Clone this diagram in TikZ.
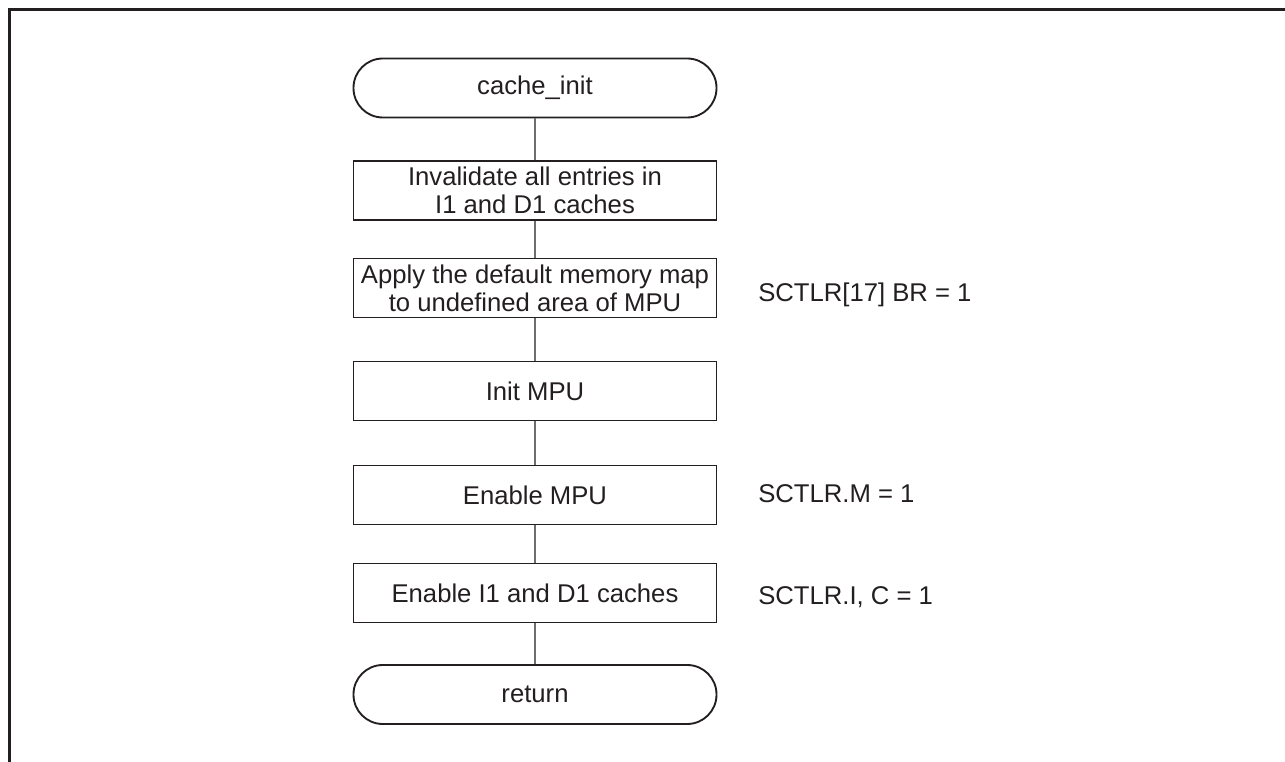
\documentclass[tikz,border=0pt]{standalone}
\usepackage{fontspec}
\setmainfont{Liberation Sans}
\definecolor{ink}{HTML}{231F20}
\definecolor{wire}{HTML}{6D6E71}
\begin{document}
\begin{tikzpicture}[x=0.75pt, y=-0.75pt,
  every node/.style={font=\fontsize{19.25}{21}\selectfont, text=ink},
  stepbox/.style={draw=ink, line width=1.4pt, minimum width=363*0.75pt,
    minimum height=59*0.75pt, inner sep=0pt, align=center},
  terminal/.style={stepbox, rounded corners=22pt},
  note/.style={anchor=base west, inner sep=0pt},
  wireline/.style={draw=wire, line width=0.8pt}]
  \useasboundingbox (0,0) rectangle (1285,762);

  % page frame (top and left edges)
  \draw[line width=2.25pt, ink] (9.5,762) -- (9.5,9.5) -- (1285,9.5);

  % flow steps
  \node[terminal] (start) at (535,88)    {cache\_init};
  \node[stepbox]  (inval) at (535,190.5) {Invalidate all entries in\\I1 and D1 caches};
  \node[stepbox]  (defmap) at (535,288)  {Apply the default memory map\\to undefined area of MPU};
  \node[stepbox]  (initmpu) at (535,391) {Init MPU};
  \node[stepbox]  (enmpu) at (535,495)   {Enable MPU};
  \node[stepbox]  (encache) at (535,593) {Enable I1 and D1 caches};
  \node[terminal] (ret) at (535,694.5)   {return};

  % connectors
  \draw[wireline] (start.south) -- (inval.north);
  \draw[wireline] (inval.south) -- (defmap.north);
  \draw[wireline] (defmap.south) -- (initmpu.north);
  \draw[wireline] (initmpu.south) -- (enmpu.north);
  \draw[wireline] (enmpu.south) -- (encache.north);
  \draw[wireline] (encache.south) -- (ret.north);

  % register notes
  \node[note] (n1) at (758,302) {SCTLR[17] BR = 1};
  \node[note] (n2) at (758,503) {SCTLR.M = 1};
  \node[note] (n3) at (758,604) {SCTLR.I, C = 1};
\end{tikzpicture}
\end{document}
